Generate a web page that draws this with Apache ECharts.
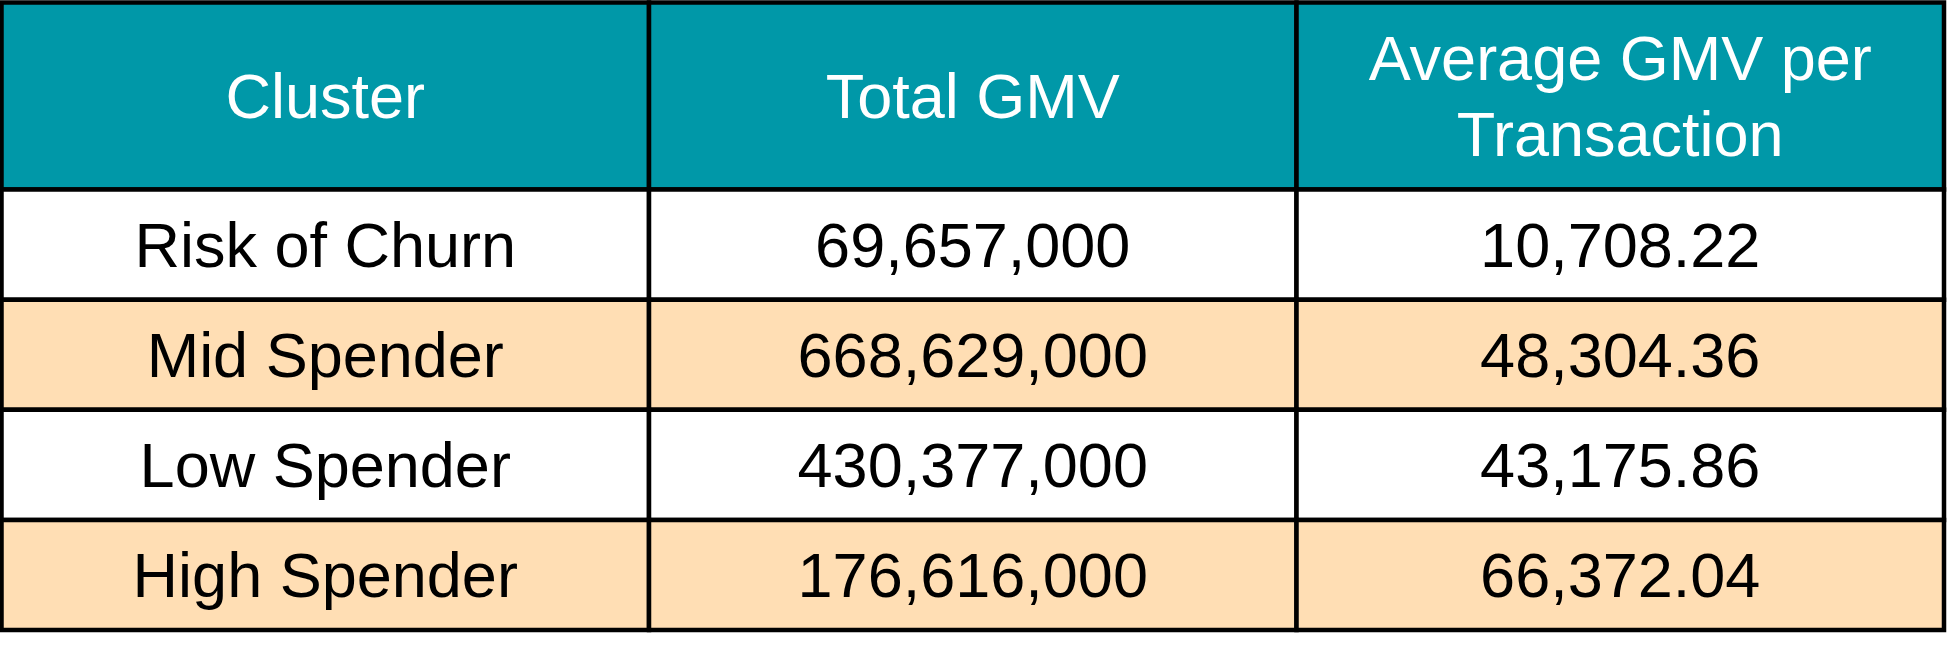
<!DOCTYPE html>
<html>
<head>
<meta charset="utf-8">
<script src="https://cdn.jsdelivr.net/npm/echarts@6/dist/echarts.min.js"></script>
<style>
  html, body { margin: 0; padding: 0; background: #ffffff; }
  #main { width: 1949px; height: 652px; }
</style>
</head>
<body>
<div id="main"></div>
<script>
// table content
const columns = ['Cluster', 'Total GMV', 'Average GMV per\nTransaction'];
const clusters = ['Risk of Churn', 'Mid Spender', 'Low Spender', 'High Spender'];
const totalGmv = ['69,657,000', '668,629,000', '430,377,000', '176,616,000'];
const avgGmv = ['10,708.22', '48,304.36', '43,175.86', '66,372.04'];

const headColor = '#0098a8';
const stripeColor = '#ffdeb4';
const lineColor = '#000000';

let myChart;
let headData = [];
let bodyData = [];

// one cell = rect + centered text, sized from the category bands
function renderCell(params, api) {
	let isHead = params.seriesIndex === 0;
	let item = isHead ? headData[params.dataIndex] : bodyData[params.dataIndex];
	let c = api.coord([api.value(0), api.value(1)]);
	let s = api.size([1, 1]);
	let row = item[1];
	let fill = isHead ? headColor : (row % 2 === 1 ? stripeColor : '#ffffff');
	return {
		type: 'group',
		children: [
			{
				type: 'rect',
				shape: { x: c[0] - s[0] / 2, y: c[1] - s[1] / 2, width: s[0], height: s[1] },
				style: { fill: fill, stroke: lineColor, lineWidth: 4.5 }
			},
			{
				type: 'text',
				x: c[0],
				y: c[1] + 5,
				style: {
					text: item[2],
					fill: isHead ? '#ffffff' : '#000000',
					font: '63px "Liberation Sans", Arial, sans-serif',
					lineHeight: 76,
					align: 'center',
					verticalAlign: 'middle'
				}
			}
		]
	};
}

function init() {
	myChart = echarts.init(document.getElementById('main'), null, { renderer: 'canvas' });

	for (let i = 0; i < columns.length; i++) {
		headData.push([i, 0, columns[i]]);
	}
	for (let r = 0; r < clusters.length; r++) {
		bodyData.push([0, r, clusters[r]]);
		bodyData.push([1, r, totalGmv[r]]);
		bodyData.push([2, r, avgGmv[r]]);
	}

	let hidden = { show: false };
	let option = {
		animation: false,
		backgroundColor: '#ffffff',
		grid: [
			{ left: 1.5, width: 1942.5, top: 2.5, height: 187 },
			{ left: 1.5, width: 1942.5, top: 189.5, height: 440.5 }
		],
		xAxis: [
			{ type: 'category', gridIndex: 0, data: ['c0', 'c1', 'c2'], axisLine: hidden, axisTick: hidden, axisLabel: hidden, splitLine: hidden },
			{ type: 'category', gridIndex: 1, data: ['c0', 'c1', 'c2'], axisLine: hidden, axisTick: hidden, axisLabel: hidden, splitLine: hidden }
		],
		yAxis: [
			{ type: 'category', gridIndex: 0, data: ['h'], axisLine: hidden, axisTick: hidden, axisLabel: hidden, splitLine: hidden },
			{ type: 'category', gridIndex: 1, inverse: true, data: ['r0', 'r1', 'r2', 'r3'], axisLine: hidden, axisTick: hidden, axisLabel: hidden, splitLine: hidden }
		],
		series: [
			{
				type: 'custom',
				xAxisIndex: 0,
				yAxisIndex: 0,
				renderItem: renderCell,
				encode: { x: 0, y: 1 },
				data: headData.map(d => [d[0], d[1]])
			},
			{
				type: 'custom',
				xAxisIndex: 1,
				yAxisIndex: 1,
				renderItem: renderCell,
				encode: { x: 0, y: 1 },
				data: bodyData.map(d => [d[0], d[1]])
			}
		]
	};

	option && myChart.setOption(option);
	window.onresize = myChart.resize;
}

init();
</script>
</body>
</html>
